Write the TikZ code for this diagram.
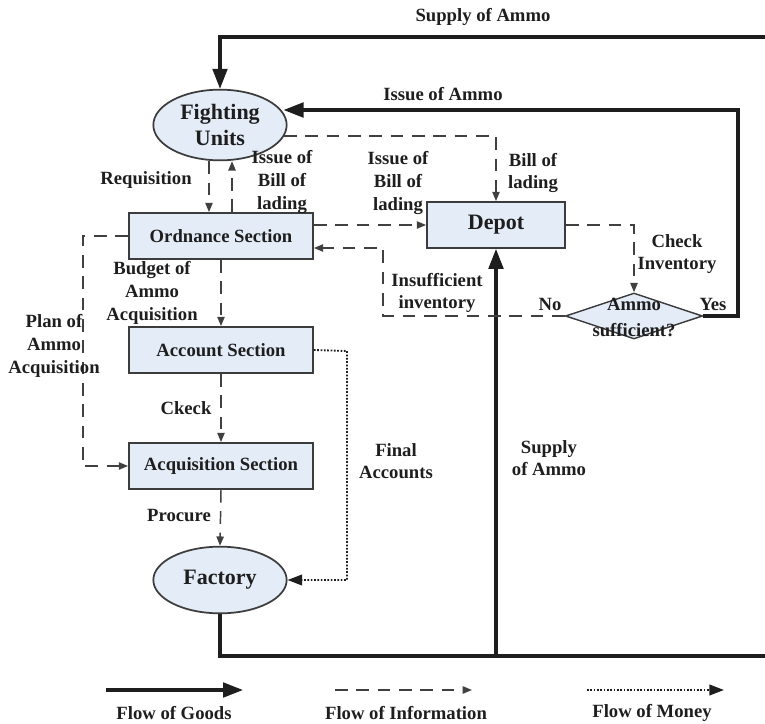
\documentclass[tikz,border=0pt]{standalone}
\usepackage{fontspec}
\setmainfont{Liberation Serif}
\usetikzlibrary{arrows.meta,shapes.geometric}
\definecolor{boxfill}{HTML}{E4ECF8}
\definecolor{ink}{HTML}{1E1E1E}
\definecolor{edge}{HTML}{3C3C3C}
\begin{document}
\begin{tikzpicture}[x=0.75pt,y=-0.75pt,
  lbl/.style={font=\fontsize{14}{17}\selectfont\bfseries, text=ink, inner sep=0pt, align=center},
  sect/.style={rectangle, draw=edge, line width=1.3pt, fill=boxfill, minimum width=138pt, minimum height=34.5pt, inner sep=0pt, font=\fontsize{14}{17}\selectfont\bfseries, text=ink},
  depotbox/.style={rectangle, draw=edge, line width=1.3pt, fill=boxfill, minimum width=103.5pt, minimum height=34.5pt, inner sep=0pt, font=\fontsize{16.5}{19.5}\selectfont\bfseries, text=ink},
  ell/.style={ellipse, draw=edge, line width=1.3pt, fill=boxfill, minimum width=100pt, minimum height=53pt, inner sep=0pt, align=center, font=\fontsize{16.5}{19.5}\selectfont\bfseries, text=ink},
  goods/.style={draw=ink, line width=2.3pt, -{Triangle[length=15pt,width=11pt]}},
  goodsline/.style={draw=ink, line width=2.3pt},
  info/.style={draw=ink!85, line width=1.1pt, dash pattern=on 9.5pt off 6.5pt, -{Triangle[length=7pt,width=5.5pt]}},
  money/.style={draw=ink, line width=1.4pt, dash pattern=on 1.3pt off 1.2pt, -{Triangle[length=11pt,width=8pt]}}
]
\useasboundingbox (0,0) rectangle (765,724);

% nodes
\node[ell] (fu) at (220,125) {Fighting\\Units};
\node[sect] (ord) at (221,236) {Ordnance Section};
\node[sect] (acc) at (221,350) {Account Section};
\node[sect] (acq) at (221,466) {Acquisition Section};
\node[ell, minimum height=50pt] (fac) at (220,580) {Factory};
\node[depotbox] (dep) at (496,225) {Depot};
\node[diamond, draw=edge, fill=boxfill, line width=1.1pt, minimum width=102.75pt, minimum height=34.5pt, inner sep=0pt, aspect=2.9] (dia) at (634,316) {};
\node[lbl, font=\fontsize{14}{19.5}\selectfont\bfseries] (diatxt) at (634,317) {Ammo\\sufficient?};

% coordinates
\coordinate (topR) at (765,37);
\coordinate (iaB) at (738,316);
\coordinate (iaT) at (738,110);
\coordinate (blL) at (284,136);
\coordinate (rq) at (209,0);
\coordinate (iu) at (232,0);
\coordinate (noC) at (383,316);
\coordinate (noT) at (383,248);
\coordinate (planB) at (83,466);
\coordinate (faT) at (347,351);
\coordinate (botR) at (765,656);

% goods flows
\draw[goods] (topR) -| (fu);
\draw[goods] (dia.east) -- (iaB) -- (iaT) -- ([xshift=-3pt]fu.east |- iaT);
\draw[goodsline] (fac.south) |- (botR);
\draw[goods] (dep.south |- botR) -- (dep.south);

% information flows
\draw[info] (blL) -| (dep.north);
\draw[info] (fu.south -| rq) -- (ord.north -| rq);
\draw[info] (ord.north -| iu) -- (fu.south -| iu);
\draw[info] (ord.east |- dep.west) -- (dep.west);
\draw[info] (dep.east) -| (dia.north);
\draw[info] (dia.west) -- (noC) -- (noT) -- (ord.east |- noT);
\draw[info] (ord.south) -- (acc.north);
\draw[info] (ord.west) -| (planB) -- (acq.west);
\draw[info] (acc.south) -- (acq.north);
\draw[info] (acq.south) -- (fac.north);

% money flow
\draw[money] (acc.east) -- (faT) |- (fac.east);

% labels
\node[lbl] (l1) at (483,17) {Supply of Ammo};
\node[lbl] (l2) at (443,94) {Issue of Ammo};
\node[lbl] (l3) at (146,180) {Requisition};
\node[lbl] (l4) at (282,182) {Issue of\\Bill of\\lading};
\node[lbl] (l5) at (398,183) {Issue of\\Bill of\\lading};
\node[lbl] (l6) at (533,173) {Bill of\\lading};
\node[lbl] (l7) at (677,254) {Check\\Inventory};
\node[lbl] (l8) at (437,293) {Insufficient\\inventory};
\node[lbl] (l9) at (550,304) {No};
\node[lbl] (l10) at (713,304) {Yes};
\node[lbl] (l11) at (152,293) {Budget of\\Ammo\\Acquisition};
\node[lbl] (l12) at (54,346) {Plan of\\Ammo\\Acquisition};
\node[lbl] (l13) at (186,408) {Ckeck};
\node[lbl] (l14) at (396,461) {Final\\Accounts};
\node[lbl] (l15) at (549,458) {Supply\\of Ammo};
\node[lbl] (l16) at (179,516) {Procure};

% legend
\coordinate (g1) at (106,690);
\coordinate (g2) at (243,690);
\coordinate (i1) at (335,690);
\coordinate (i2) at (472,690);
\coordinate (m1) at (587,690);
\coordinate (m2) at (724,690);
\draw[goods] (g1) -- (g2);
\draw[info] (i1) -- (i2);
\draw[money] (m1) -- (m2);
\node[lbl] (lg1) at (174,713) {Flow of Goods};
\node[lbl] (lg2) at (406,713) {Flow of Information};
\node[lbl] (lg3) at (652,713) {Flow of Money};
\end{tikzpicture}
\end{document}
